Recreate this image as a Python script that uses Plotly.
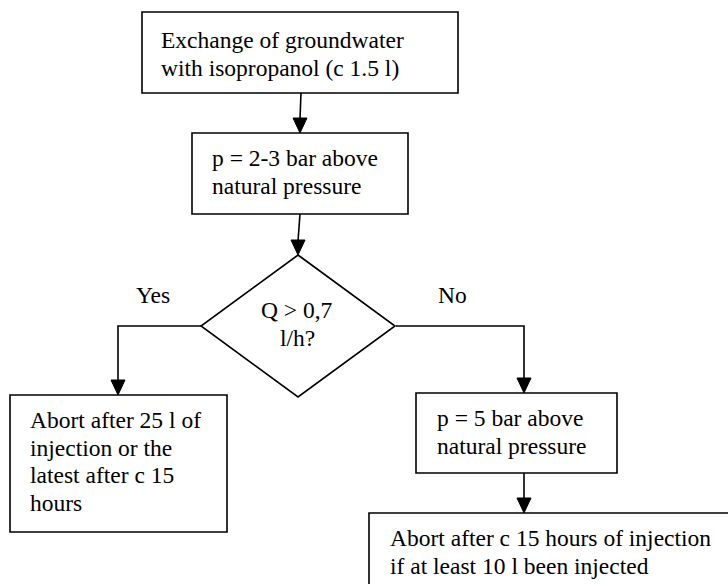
import plotly.graph_objects as go

# ---- content ----
box_texts = {
    "start": ["Exchange of groundwater", "with isopropanol (c 1.5 l)"],
    "p23": ["p = 2-3 bar above", "natural pressure"],
    "yes_box": ["Abort after 25 l of", "injection or the", "latest after c 15", "hours"],
    "p5": ["p = 5 bar above", "natural pressure"],
    "no_box": ["Abort after c 15 hours of injection", "if at least 10 l been injected"],
}
decision_lines = ["Q > 0,7", "l/h?"]
branch_labels = ["Yes", "No"]

# ---- layout geometry (pixels) ----
W, H = 728, 584
rects = {
    "start": (142, 12, 458, 93),
    "p23": (192, 133, 408, 214),
    "yes_box": (10, 395, 227, 532),
    "p5": (416, 393, 617, 473),
    "no_box": (369, 513, 745, 600),
}
text_pos = {  # left x, first line center y
    "start": (159, 40),
    "p23": (210, 158),
    "yes_box": (28, 420),
    "p5": (435, 418),
    "no_box": (388, 538),
}
line_gap = 27.5
diamond = (298, 326, 97, 71)  # cx, cy, half-w, half-h
label_pos = [(153, 295), (452, 295)]

connectors = [
    [(301, 93), (300, 133)],
    [(300, 214), (298, 255)],
    [(201, 326), (118, 326), (118, 395)],
    [(396, 326), (524, 326), (524, 393)],
    [(524, 473), (524, 513)],
]

FONT = "Liberation Serif"
FS = 23.5
LW = 1.6

fig = go.Figure()
shapes = []
annotations = []

for k, (x0, y0, x1, y1) in rects.items():
    shapes.append(dict(type="rect", x0=x0, y0=y0, x1=x1, y1=y1, xref="x", yref="y",
                       line=dict(color="black", width=LW), fillcolor="white", layer="below"))

cx, cy, hw, hh = diamond
shapes.append(dict(type="path",
                   path=f"M {cx},{cy-hh} L {cx+hw},{cy} L {cx},{cy+hh} L {cx-hw},{cy} Z",
                   xref="x", yref="y", line=dict(color="black", width=LW), fillcolor="white", layer="below"))

for pts in connectors:
    path = "M " + " L ".join(f"{x},{y}" for x, y in pts[:-1])
    (xb, yb) = pts[-1]
    ah, aw = 15, 7
    path += f" L {xb},{yb-ah+1}"
    shapes.append(dict(type="path", path=path, xref="x", yref="y",
                       line=dict(color="black", width=LW)))
    shapes.append(dict(type="path",
                       path=f"M {xb-aw},{yb-ah} L {xb+aw},{yb-ah} L {xb},{yb} Z",
                       xref="x", yref="y", line=dict(color="black", width=1), fillcolor="black"))

for k, lines in box_texts.items():
    lx, ly = text_pos[k]
    for i, t in enumerate(lines):
        annotations.append(dict(x=lx, y=ly + i * line_gap, text=t, showarrow=False,
                                xanchor="left", yanchor="middle", xref="x", yref="y",
                                font=dict(family=FONT, size=FS, color="black")))

for i, t in enumerate(decision_lines):
    annotations.append(dict(x=cx - 1, y=310 + i * line_gap, text=t, showarrow=False,
                            xanchor="center", yanchor="middle", xref="x", yref="y",
                            font=dict(family=FONT, size=FS, color="black")))

for (lx, ly), t in zip(label_pos, branch_labels):
    annotations.append(dict(x=lx, y=ly, text=t, showarrow=False,
                            xanchor="center", yanchor="middle", xref="x", yref="y",
                            font=dict(family=FONT, size=FS, color="black")))

fig.update_layout(
    width=W, height=H, margin=dict(l=0, r=0, t=0, b=0),
    paper_bgcolor="white", plot_bgcolor="white",
    xaxis=dict(range=[0, W], visible=False, fixedrange=True),
    yaxis=dict(range=[H, 0], visible=False, fixedrange=True),
    shapes=shapes, annotations=annotations, showlegend=False,
)
fig.write_html("out.html", config={"displayModeBar": False},
               post_script="document.body.style.margin='0px';document.body.style.overflow='hidden';")
